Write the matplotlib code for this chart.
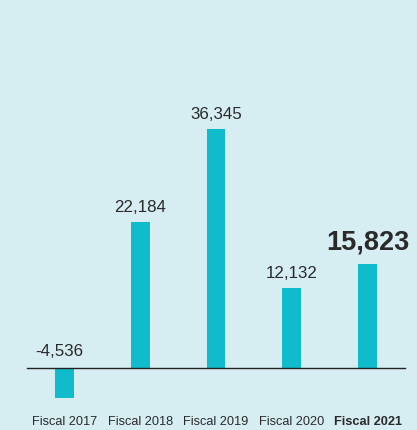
import matplotlib.pyplot as plt

years = ["Fiscal 2017", "Fiscal 2018", "Fiscal 2019", "Fiscal 2020", "Fiscal 2021"]
values = [-4536, 22184, 36345, 12132, 15823]
labels = ["-4,536", "22,184", "36,345", "12,132", "15,823"]

plt.rcParams['font.family'] = ['Liberation Sans', 'DejaVu Sans']

bg = "#d6edf2"
bar_color = "#10bccb"
txt = "#2a2a2a"

fig = plt.figure(figsize=(4.17, 4.30), dpi=100, facecolor=bg)
ax = fig.add_axes([0, 0, 1, 1])
ax.set_facecolor(bg)

x = range(len(years))
ax.bar(x, values, width=0.25, color=bar_color)
ax.plot([-0.495, 4.495], [0, 0], color="#222222", lw=1)

ax.set_xlim(-0.851, 4.653)
ax.set_ylim(-9420, 55930)
ax.axis("off")

for i, (v, lab) in enumerate(zip(values, labels)):
    if i == len(values) - 1:
        ax.text(i, v + 1300, lab, ha="center", va="bottom", fontsize=19.5,
                fontweight="bold", color=txt)
    elif v < 0:
        ax.text(i - 0.066, 1300, lab, ha="center", va="bottom", fontsize=12.2, color=txt)
    else:
        ax.text(i, v + 1100, lab, ha="center", va="bottom", fontsize=12.2, color=txt)

for i, y in enumerate(years):
    ax.text(i, -8160, y, ha="center", va="center", fontsize=9.2, color=txt,
            fontweight="bold" if i == len(years) - 1 else "normal")

fig.savefig("out.png", dpi=100, facecolor=bg)
